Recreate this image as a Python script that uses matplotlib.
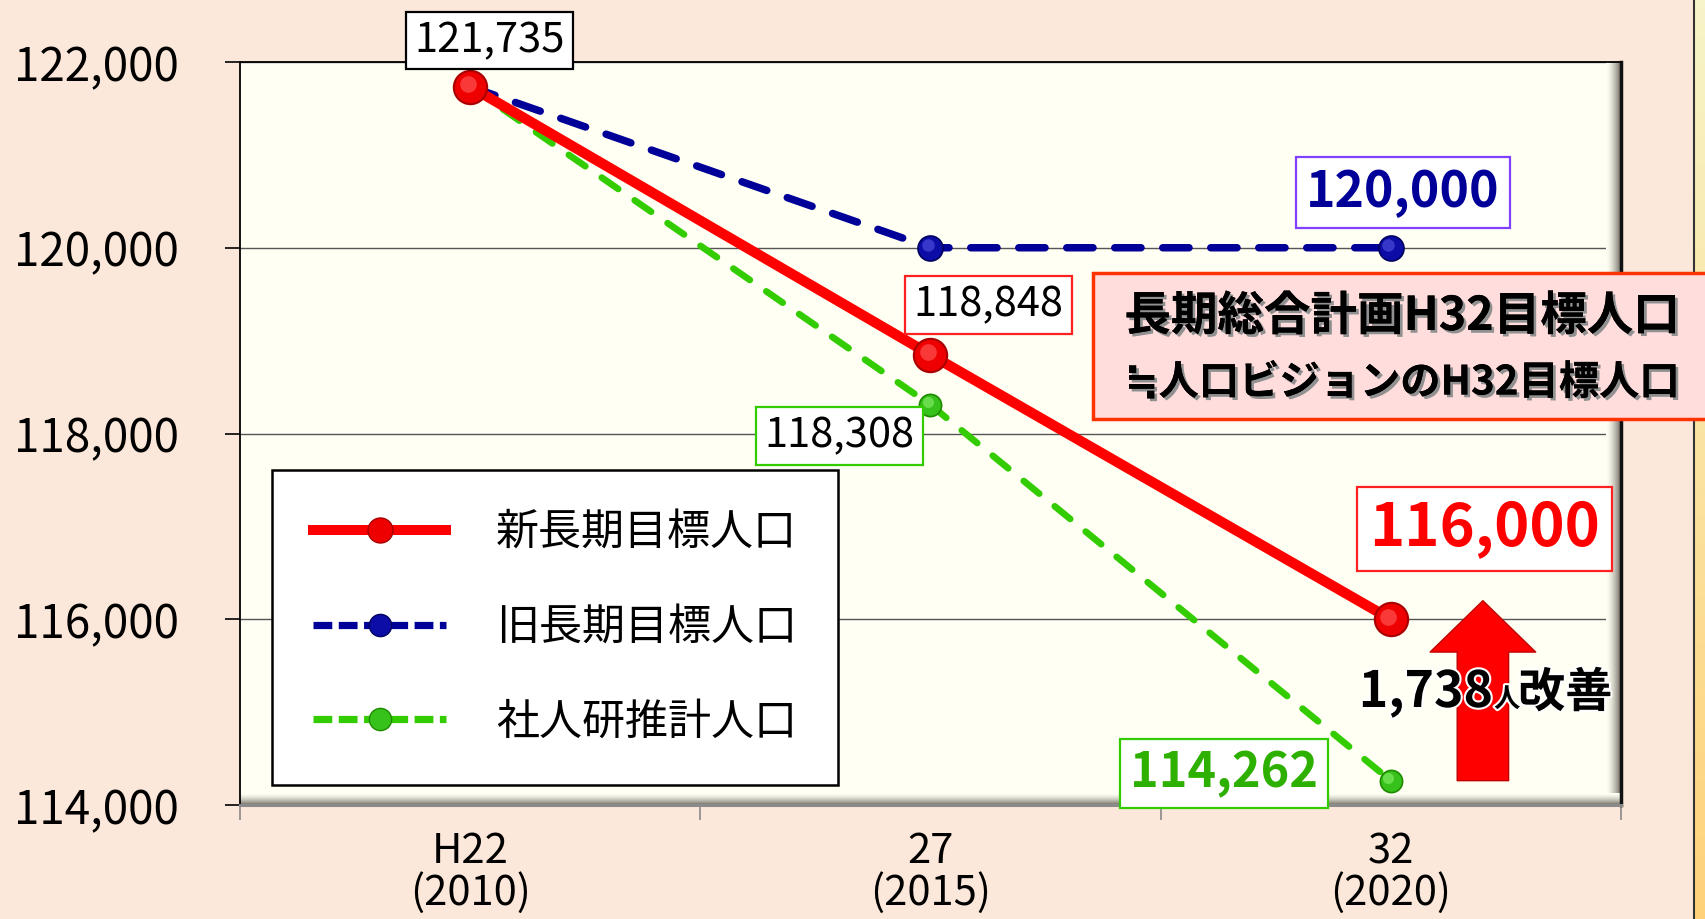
import matplotlib
matplotlib.use('Agg')
import matplotlib.pyplot as plt
import numpy as np
from matplotlib.patches import Rectangle
from matplotlib.lines import Line2D
from matplotlib.colors import LinearSegmentedColormap
from matplotlib.transforms import ScaledTranslation
import matplotlib.patheffects as pe

plt.rcParams['font.family'] = ['Noto Sans CJK JP', 'DejaVu Sans']

# ---------------- data ----------------
categories = ['H22\n(2010)', '27\n(2015)', '32\n(2020)']
new_target = [121735, 118848, 116000]        # 新長期目標人口
old_target = [121735, 120000, 120000]        # 旧長期目標人口
ipss_projection = [121735, 118308, 114262]   # 社人研推計人口
series_names = ['新長期目標人口', '旧長期目標人口', '社人研推計人口']
y_ticks = [114000, 116000, 118000, 120000, 122000]
note_lines = ['長期総合計画H32目標人口', '≒人口ビジョンのH32目標人口']
improvement = new_target[2] - ipss_projection[2]

RED = '#FF0000'
BLUE = '#000099'
GREEN = '#33CC00'

W, H = 1706, 919
fig = plt.figure(figsize=(W / 100, H / 100), dpi=100)
fig.patch.set_facecolor('#FCE8DA')


def fx(x):
    return x / W


def fy(y):
    return 1 - y / H


# background decoration (right strip)
bg = fig.add_axes([0, 0, 1, 1], zorder=-5)
bg.set_xlim(0, W)
bg.set_ylim(H, 0)
bg.axis('off')
strip_cm = LinearSegmentedColormap.from_list('strip', ['#F7F4C8', '#FFD27A'])
bg.imshow(np.linspace(0, 1, 100)[:, None], cmap=strip_cm,
          extent=(1695, 1706, H, 0), aspect='auto')
bg.plot([1694.5, 1694.5], [0, H], color='#333333', lw=1.5)
bg.set_xlim(0, W)
bg.set_ylim(H, 0)

# ---------------- main axes ----------------
ax = fig.add_axes([fx(240), fy(805), (1621 - 240) / W, (805 - 62) / H], zorder=1)
ax.set_facecolor('#FFFFF3')
x = np.arange(len(categories))

# bevel shading
shade = LinearSegmentedColormap.from_list('sh', ['#FFFFF3', '#6F6B62'])
ax.imshow(np.linspace(0, 1, 60)[None, :] ** 1.6, cmap=shade,
          extent=(1 - 15 / 1381, 1, 0, 1), transform=ax.transAxes,
          aspect='auto', zorder=0.6)
ax.imshow(np.linspace(0, 1, 60)[:, None] ** 1.6, cmap=shade,
          extent=(0, 1, 0, 12 / 743), transform=ax.transAxes,
          aspect='auto', zorder=0.6)

ax.yaxis.grid(True, color='#555555', lw=1.0)
ax.set_axisbelow(True)

hl = ScaledTranslation(-2.5 / 100, 2.5 / 100, fig.dpi_scale_trans)

ax.plot(x, ipss_projection, color=GREEN, lw=4.8, dashes=(3.0, 3.0),
        dash_capstyle='round', marker='o', ms=16, mfc='#36C21A',
        mec='#1E8A00', mew=1.2, zorder=3)
ax.plot(x, old_target, color=BLUE, lw=5.4, dashes=(3.5, 2.9),
        dash_capstyle='round', marker='o', ms=18, mfc='#0C0CA6',
        mec='#000060', mew=1.2, zorder=3)
ax.plot(x, new_target, color=RED, lw=7.4, solid_capstyle='round',
        marker='o', ms=24, mfc='#EE0000', mec='#A80000', mew=1.5, zorder=4)
# sphere highlights
ax.plot(x[1:], ipss_projection[1:], ls='none', marker='o', ms=8, mfc='#7FE860',
        mec='none', alpha=0.7, zorder=3.5, transform=ax.transData + hl)
ax.plot(x[1:], old_target[1:], ls='none', marker='o', ms=9, mfc='#4A4AD8',
        mec='none', alpha=0.7, zorder=3.5, transform=ax.transData + hl)
ax.plot(x, new_target, ls='none', marker='o', ms=12, mfc='#FF5050',
        mec='none', alpha=0.7, zorder=4.5, transform=ax.transData + hl)


# data labels
def label(xi, v, dx, dy, color, ec, size, weight):
    ax.annotate(f'{v:,}', xy=(xi, v), xytext=(dx, dy),
                textcoords='offset pixels', ha='center', va='center',
                fontsize=size, fontweight=weight, color=color,
                bbox=dict(boxstyle='square,pad=0.2', fc='white', ec=ec, lw=1.6),
                zorder=6)


label(0, new_target[0], 19, 46, 'black', 'black', 30, 'normal')
label(1, new_target[1], 58, 50, 'black', '#FF2020', 30, 'normal')
label(1, ipss_projection[1], -91, -31, 'black', '#33CC00', 30, 'normal')
label(2, old_target[2], 12, 55, BLUE, '#8040FF', 36, 'bold')
label(2, new_target[2], 94, 90, RED, '#FF2020', 43, 'bold')
label(2, ipss_projection[2], -167, 7, '#2DB000', '#33CC00', 35, 'bold')

# improvement arrow
ax.annotate('', xy=(2.2, new_target[2] + 200), xytext=(2.2, ipss_projection[2]),
            arrowprops=dict(arrowstyle='simple,head_length=37,head_width=76,tail_width=37',
                            mutation_scale=1, fc='#FF0000', ec='#C00000', lw=1,
                            shrinkA=0, shrinkB=0), zorder=5)

halo = [pe.withStroke(linewidth=3, foreground='white')]
ax.text(fx(1493), fy(707), f'{improvement:,}', transform=fig.transFigure,
        ha='right', va='baseline', fontsize=36, fontweight='bold',
        color='black', path_effects=halo, zorder=7)
ax.text(fx(1494), fy(707), '人', transform=fig.transFigure, ha='left',
        va='baseline', fontsize=19, fontweight='bold', color='black',
        path_effects=halo, zorder=7)
ax.text(fx(1518), fy(707), '改善', transform=fig.transFigure, ha='left',
        va='baseline', fontsize=34, fontweight='bold', color='black',
        path_effects=halo, zorder=7)

# note box
rect = Rectangle((fx(1093), fy(419)), fx(1712) - fx(1093), fy(273) - fy(419),
                 transform=fig.transFigure, fc='#FFDDDD', ec='#FF3300', lw=2.5,
                 zorder=8, clip_on=False)
ax.add_artist(rect)
shadow = [pe.withSimplePatchShadow(offset=(2, -2), shadow_rgbFace='#909090', alpha=1.0),
          pe.Normal()]
ax.text(fx(1402), fy(316), note_lines[0], transform=fig.transFigure,
        ha='center', va='center', fontsize=33.5, fontweight='bold', color='black',
        path_effects=shadow, zorder=9, clip_on=False)
ax.text(fx(1402), fy(383), note_lines[1], transform=fig.transFigure,
        ha='center', va='center', fontsize=29, fontweight='bold', color='black',
        path_effects=shadow, zorder=9, clip_on=False)

# legend
handles = [
    Line2D([], [], color=RED, lw=7.2, marker='o', ms=18, mfc='#EE0000', mec='#A80000'),
    Line2D([], [], color=BLUE, lw=5.2, dashes=(2.6, 0.9), marker='o', ms=16,
           mfc='#0C0CA6', mec='#000060'),
    Line2D([], [], color=GREEN, lw=5.2, dashes=(2.6, 0.9), marker='o', ms=16,
           mfc='#36C21A', mec='#1E8A00'),
]
leg = ax.legend(handles, series_names, loc='upper left',
                bbox_to_anchor=(fx(272), fy(470)), bbox_transform=fig.transFigure,
                borderaxespad=0, frameon=True, fancybox=False, edgecolor='black',
                facecolor='white', framealpha=1, fontsize=31, handlelength=3.1,
                handletextpad=1.15, labelspacing=1.18, borderpad=0.95)
leg.get_frame().set_linewidth(1.8)
leg.set_zorder(7)

# axes, ticks
ax.set_xlim(-0.5, 2.5)
ax.set_ylim(114000, 122000)
ax.set_yticks(y_ticks)
ax.set_yticklabels([f'{v:,}' for v in y_ticks])
ax.set_xticks(x)
ax.set_xticklabels(categories)
ax.set_xticks(np.arange(len(categories) + 1) - 0.5, minor=True)
ax.tick_params(axis='y', length=11, width=1.2, pad=33, labelsize=33, colors='black')
ax.tick_params(axis='x', which='major', length=0, pad=19, labelsize=30)
ax.tick_params(axis='x', which='minor', length=11, width=1.2, color='#888888')
for lab in ax.get_xticklabels():
    lab.set_linespacing(1.0)

for s in ['top', 'left']:
    ax.spines[s].set_color('black')
    ax.spines[s].set_linewidth(1.3)
ax.spines['right'].set_color('#111111')
ax.spines['right'].set_linewidth(2.5)
ax.spines['bottom'].set_color('#8A8A8A')
ax.spines['bottom'].set_linewidth(2.2)

fig.savefig('out.png', dpi=100, facecolor=fig.get_facecolor())
